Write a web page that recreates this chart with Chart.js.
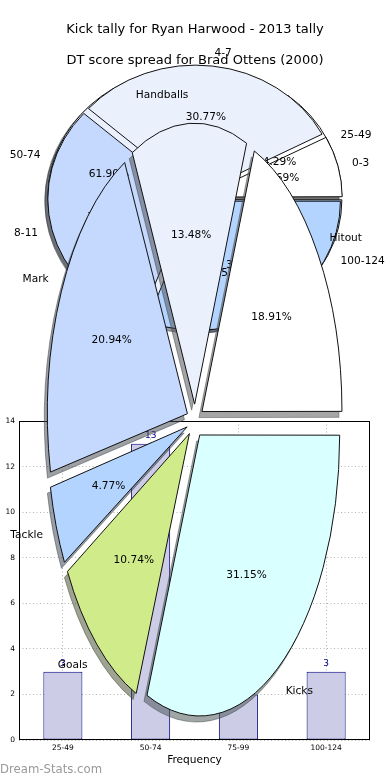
<!DOCTYPE html>
<html><head><meta charset="utf-8">
<script src="https://cdn.jsdelivr.net/npm/chart.js@4.4.1/dist/chart.umd.min.js"></script>
<style>
html,body{margin:0;padding:0;background:#fff;}
#wrap{position:relative;width:390px;height:780px;overflow:hidden;background:#fff;}
canvas{position:absolute;left:0;top:0;}
</style></head>
<body><div id="wrap">
<canvas id="bar" width="390" height="780"></canvas>
<canvas id="pieD" width="390" height="780"></canvas>
<canvas id="pieK" width="390" height="780"></canvas>
<canvas id="pieS" width="390" height="780"></canvas>
</div>
<script>
// ---- data ----
const titleKick = 'Kick tally for Ryan Harwood - 2013 tally';
const titleDT = 'DT score spread for Brad Ottens (2000)';
const scoreBands = ['25-49', '50-74', '75-99', '100-124'];
const scoreCounts = [3, 13, 2, 3];
const kickBands = ['0-3', '4-7', '8-11', '12-15'];
const kickCounts = [1, 4, 4, 4];
const statNames = ['Hitout', 'Handballs', 'Mark', 'Tackle', 'Goals', 'Kicks'];
const statShares = [18.91, 13.48, 20.94, 4.77, 10.74, 31.15];
const barXTitle = 'Frequency';
const barYTitle = 'No. of Games';
const watermark = 'Dream-Stats.com';

// ---- style ----
const FONT = '"DejaVu Sans", sans-serif';
Chart.defaults.font.family = FONT;
const pal = ['#ffffff', '#eaf1fd', '#c5d8fd', '#b3d4ff', '#d0eb8a', '#d9ffff'];
const TOP = {cx: 195, cy: 198, rx: 143, ry: 129, explode: 0.03, shx: -3, shy: 3};
const BIG = {cx: 195, cy: 421, rx: 140, ry: 281, explode: 0.06, shx: -3, shy: 6};

function fixRadius(chart, geo) {
  chart.getDatasetMeta(0).data.forEach(a => {
    const off = (a.options.offset || 0) / 4;
    const fix = 1 - Math.sin(Math.min(Math.PI, a.circumference || 0));
    a.outerRadius = geo.rx - off * fix;
  });
}
function patchStroke(ctx, base) {
  const orig = CanvasRenderingContext2D.prototype.stroke;
  ctx.stroke = function () { this.save(); this.setTransform(base); orig.apply(this, arguments); this.restore(); };
}
function unpatchStroke(ctx) { delete ctx.stroke; }
function ellipseTransform(ctx, a, geo, dx, dy) {
  ctx.translate(dx, dy);
  ctx.translate(a.x, a.y); ctx.scale(1, geo.ry / geo.rx); ctx.translate(-a.x, -a.y);
}
function shadowColour(hex) {
  const n = parseInt(hex.slice(1), 16);
  const r = (n >> 16) & 255, g = (n >> 8) & 255, b = n & 255;
  return 'rgba(' + Math.round(r * 0.3) + ',' + Math.round(g * 0.3) + ',' + Math.round(b * 0.3) + ',0.5)';
}
function drawShadows(ctx, chart, geo) {
  const arcs = chart.getDatasetMeta(0).data;
  if (!arcs.length) return;
  fixRadius(chart, geo);
  const base = ctx.getTransform();
  ctx.save();
  ellipseTransform(ctx, arcs[0], geo, geo.shx, geo.shy);
  patchStroke(ctx, base);
  arcs.forEach(a => {
    const o = a.options;
    const col = shadowColour(o.backgroundColor);
    a.options = Object.assign({}, o, {backgroundColor: col, borderColor: col});
    a.draw(ctx);
    a.options = o;
  });
  unpatchStroke(ctx);
  ctx.restore();
}
function drawTexts(ctx, chart, geo) {
  const arcs = chart.getDatasetMeta(0).data;
  const ds = chart.data.datasets[0];
  const total = ds.data.reduce((s, v) => s + v, 0);
  const sy = geo.ry / geo.rx, R = geo.rx;
  ctx.save();
  ctx.fillStyle = '#000';
  ctx.font = '10.6px ' + FONT;
  ctx.textBaseline = 'middle';
  arcs.forEach((a, i) => {
    const mid = (a.startAngle + a.endAngle) / 2;
    const off = (a.options.offset || 0) / 4;
    const c = Math.cos(mid), s = Math.sin(mid);
    ctx.textAlign = c > 0 ? 'left' : 'right';
    ctx.fillText(chart.data.labels[i], a.x + c * (off + 1.1 * R), a.y + sy * s * (off + 1.1 * R));
    ctx.textAlign = 'center';
    ctx.fillText((ds.data[i] / total * 100).toFixed(2) + '%', a.x + c * (off + 0.6 * R), a.y + sy * s * (off + 0.6 * R));
  });
  ctx.restore();
}
function piePlugin(geo, opts) {
  return {
    id: 'ellipsePie',
    beforeDatasetsDraw(chart) {
      const ctx = chart.ctx;
      fixRadius(chart, geo);
      (opts.shadows ? opts.shadows(chart) : []).forEach(p => { if (p[0]) drawShadows(ctx, p[0], p[1]); });
      const a0 = chart.getDatasetMeta(0).data[0];
      const base = ctx.getTransform();
      ctx.save();
      ellipseTransform(ctx, a0, geo, 0, 0);
      patchStroke(ctx, base);
    },
    afterDatasetsDraw(chart) { unpatchStroke(chart.ctx); chart.ctx.restore(); },
    afterDraw(chart) {
      (opts.texts ? opts.texts(chart) : []).forEach(p => { if (p[0]) drawTexts(chart.ctx, p[0], p[1]); });
      if (opts.extra) opts.extra(chart.ctx);
    }
  };
}
function makePie(id, labels, values, geo, plugin) {
  const n = values.length;
  return new Chart(document.getElementById(id), {
    type: 'pie',
    data: {
      labels: labels.slice().reverse(),
      datasets: [{
        data: values.slice().reverse(),
        backgroundColor: pal.slice(0, n).reverse(),
        borderColor: '#111',
        borderWidth: 1,
        borderJoinStyle: 'miter',
        offset: geo.explode * geo.rx * 4,
        hoverOffset: 0,
        radius: geo.rx,
        clip: false
      }]
    },
    options: {
      responsive: false, animation: false, events: [], rotation: 90,
      layout: {padding: {top: Math.max(0, 2 * geo.cy - 780), bottom: Math.max(0, 780 - 2 * geo.cy), left: 0, right: 0}},
      plugins: {legend: {display: false}, tooltip: {enabled: false}}
    },
    plugins: [plugin]
  });
}

let kChart = null, dChart = null;
kChart = makePie('pieK', kickBands, kickCounts, TOP, piePlugin(TOP, {
  texts: () => [[dChart, TOP], [kChart, TOP]],
  extra: ctx => {
    ctx.save();
    ctx.fillStyle = '#000'; ctx.font = '13px ' + FONT; ctx.textAlign = 'center'; ctx.textBaseline = 'middle';
    ctx.fillText(titleKick, 195, 30);
    ctx.fillText(titleDT, 195, 61);
    ctx.restore();
  }
}));
dChart = makePie('pieD', scoreBands, scoreCounts, TOP, piePlugin(TOP, {
  shadows: self => [[self, TOP], [kChart, TOP]]
}));
kChart.draw();

makePie('pieS', statNames, statShares, BIG, piePlugin(BIG, {
  shadows: self => [[self, BIG]],
  texts: self => [[self, BIG]]
}));

// ---- bar chart ----
const barPlugin = {
  id: 'barExtras',
  afterDatasetsDraw(chart) {
    const ctx = chart.ctx;
    const meta = chart.getDatasetMeta(0);
    ctx.save();
    ctx.fillStyle = '#00008b'; ctx.font = '9px ' + FONT; ctx.textAlign = 'center'; ctx.textBaseline = 'middle';
    meta.data.forEach((b, i) => ctx.fillText(String(chart.data.datasets[0].data[i]), b.x, b.y - 8));
    ctx.restore();
  },
  afterDraw(chart) {
    const ctx = chart.ctx, a = chart.chartArea;
    ctx.save();
    ctx.strokeStyle = '#000'; ctx.lineWidth = 1;
    ctx.strokeRect(Math.round(a.left) + 0.5, Math.round(a.top) + 0.5, Math.round(a.right - a.left) - 1, Math.round(a.bottom - a.top) - 1);
    ctx.fillStyle = '#000'; ctx.font = '10.6px ' + FONT; ctx.textAlign = 'center'; ctx.textBaseline = 'middle';
    ctx.translate(-3.5, (a.top + a.bottom) / 2 + 3); ctx.rotate(-Math.PI / 2);
    ctx.fillText(barYTitle, 0, 0);
    ctx.restore();
    ctx.save();
    ctx.fillStyle = '#9a9a9a'; ctx.font = '11.7px ' + FONT; ctx.textAlign = 'left'; ctx.textBaseline = 'middle';
    ctx.fillText(watermark, 0, 770);
    ctx.restore();
  }
};
new Chart(document.getElementById('bar'), {
  type: 'bar',
  data: {labels: scoreBands, datasets: [{data: scoreCounts, backgroundColor: '#ccccE6', borderColor: '#000080', borderWidth: 1, borderSkipped: false, barPercentage: 0.445, categoryPercentage: 1}]},
  options: {
    responsive: false, animation: false, events: [],
    layout: {padding: {top: 421, right: 20, left: 0, bottom: 0}},
    plugins: {legend: {display: false}, tooltip: {enabled: false}},
    scales: {
      x: {
        grid: {offset: false, color: '#b4b4b4', drawTicks: false},
        border: {display: false, dash: [1, 2.5]},
        ticks: {font: {size: 7.5}, color: '#000', padding: 3.5, maxRotation: 0},
        title: {display: true, text: barXTitle, font: {size: 10.6}, color: '#000', padding: {top: 0, bottom: 13}},
        afterFit(s) { s.height = 40; }
      },
      y: {
        min: 0, max: 14,
        ticks: {stepSize: 2, font: {size: 7.5}, color: '#000', padding: 4},
        grid: {color: '#b4b4b4', drawTicks: false},
        border: {display: false, dash: [1, 2.5]},
        afterFit(s) { s.width = 19; }
      }
    }
  },
  plugins: [barPlugin]
});
</script>
</body></html>
